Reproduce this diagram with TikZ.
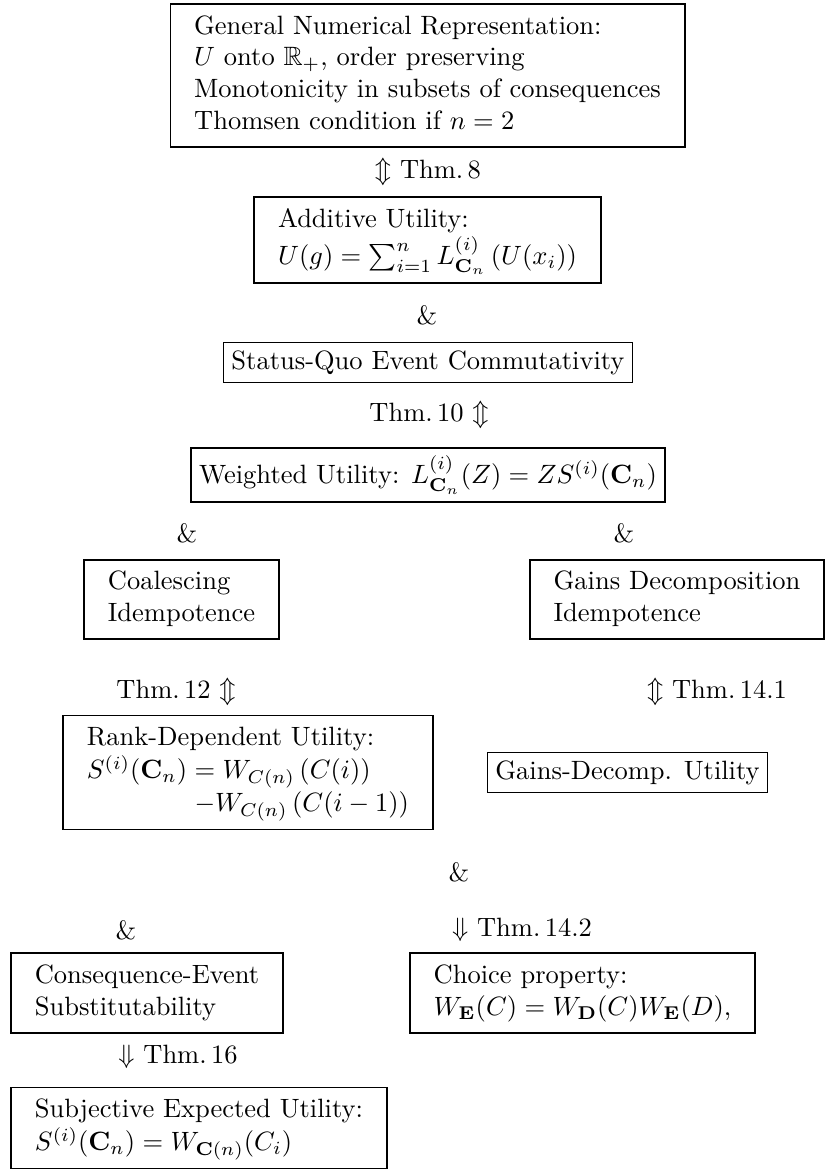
\documentclass[tikz,border=0pt]{standalone}
\usepackage{amsmath,amssymb}
\tikzset{
  thmbox/.style={draw, semithick, inner sep=3pt},
  thmlab/.style={inner sep=0pt}
}
\begin{document}
\begin{tikzpicture}
\useasboundingbox (0,0) rectangle (10.979,-15.514);

\node[thmbox] (gnr) at (5.669,-1.001) {\begin{tabular}{l}
General Numerical Representation:\\
$U$ onto $\mathbb{R}_+$, order preserving\\
Monotonicity in subsets of consequences\\
Thomsen condition if $n=2$
\end{tabular}};
\node[thmlab] (t8) at (5.675,-2.281) {$\Updownarrow$ Thm.\,8};

\node[thmbox] (au) at (5.669,-3.182) {\begin{tabular}{l}
Additive Utility:\\
$U(g)=\sum_{i=1}^{n} L^{(i)}_{\mathbf{C}_n}\left(U(x_i)\right)$
\end{tabular}};
\node[thmlab] (and1) at (5.662,-4.177) {\&};

\node[thmbox] (sqec) at (5.675,-4.807) {Status-Quo Event Commutativity};
\node[thmlab] (t10) at (5.689,-5.503) {Thm.\,10 $\Updownarrow$};

\node[thmbox] (wu) at (5.675,-6.299) {Weighted Utility: $L^{(i)}_{\mathbf{C}_n}(Z)=ZS^{(i)}(\mathbf{C}_n)$};
\node[thmlab] (and2) at (2.480,-7.068) {\&};
\node[thmlab] (and3) at (8.274,-7.068) {\&};

\node[thmbox] (ci) at (2.407,-7.949) {\begin{tabular}{l}
Coalescing\\
Idempotence
\end{tabular}};
\node[thmbox] (gdi) at (8.977,-7.949) {\begin{tabular}{l}
Gains Decomposition\\
Idempotence
\end{tabular}};
\node[thmlab] (t12) at (2.334,-9.176) {Thm.\,12 $\Updownarrow$};
\node[thmlab] (t141) at (9.507,-9.176) {$\Updownarrow$ Thm.\,14.1};

\node[thmbox] (rdu) at (3.288,-10.243) {\begin{tabular}{l}
Rank-Dependent Utility:\\
$S^{(i)}(\mathbf{C}_n)=W_{C(n)}\left(C(i)\right)$\\
$\phantom{S^{(i)}(\mathbf{C}_n)}\;{-}W_{C(n)}\left(C(i-1)\right)$
\end{tabular}};
\node[thmbox] (gdu) at (8.321,-10.243) {Gains-Decomp. Utility};
\node[thmlab] (and4) at (6.086,-11.563) {\&};

\node[thmlab] (and5) at (1.671,-12.332) {\&};
\node[thmlab] (t142) at (6.922,-12.332) {$\Downarrow$ Thm.\,14.2};

\node[thmbox] (ces) at (1.949,-13.167) {\begin{tabular}{l}
Consequence-Event\\
Substitutability
\end{tabular}};
\node[thmbox] (cp) at (7.724,-13.167) {\begin{tabular}{l}
Choice property:\\
$W_{\mathbf{E}}(C)=W_{\mathbf{D}}(C)W_{\mathbf{E}}(D)$,
\end{tabular}};
\node[thmlab] (t16) at (2.360,-14.016) {$\Downarrow$ Thm.\,16};

\node[thmbox] (seu) at (2.639,-14.957) {\begin{tabular}{l}
Subjective Expected Utility:\\
$S^{(i)}(\mathbf{C}_n)=W_{\mathbf{C}(n)}(C_i)$
\end{tabular}};
\end{tikzpicture}
\end{document}
